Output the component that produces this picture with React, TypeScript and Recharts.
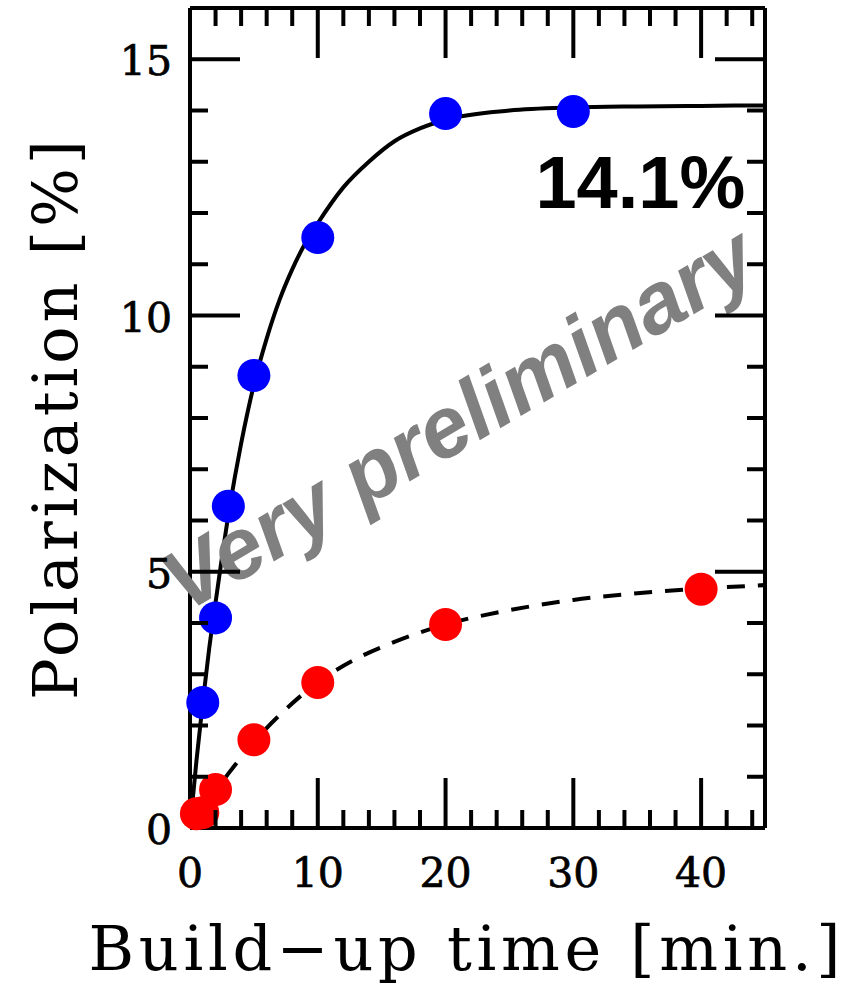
import React from "react";
import {
  ComposedChart,
  Line,
  Scatter,
  XAxis,
  YAxis,
  ReferenceDot,
  Label,
} from "recharts";

// measured points
const blueTimes = [1, 2, 3, 5, 10, 20, 30];
const bluePol = [2.45, 4.1, 6.28, 8.83, 11.52, 13.94, 13.98];

const redTimes = [0.5, 1, 2, 5, 10, 20, 40];
const redPol = [0.28, 0.3, 0.75, 1.72, 2.84, 3.97, 4.66];

// fit curves
const solidTimes = [0, 0.5, 1, 1.5, 2, 3, 4, 5, 6, 7, 8, 9, 10, 12, 14, 16, 18, 20, 25, 30, 35, 40, 45];
const solidPol = [0, 1.3, 2.45, 3.5, 4.4, 6.1, 7.5, 8.65, 9.55, 10.3, 10.9, 11.4, 11.8, 12.5, 13.0, 13.4, 13.65, 13.82, 14.0, 14.06, 14.08, 14.09, 14.1];

const dashedTimes = [0, 1, 2, 3, 4, 5, 7, 10, 13, 16, 20, 25, 30, 35, 40, 45];
const dashedPol = [0, 0.37, 0.72, 1.06, 1.38, 1.68, 2.2, 2.84, 3.3, 3.63, 3.97, 4.25, 4.45, 4.58, 4.67, 4.74];

const xTicks = Array.from({ length: 23 }, (_, i) => i * 2);
const yTicks = Array.from({ length: 16 }, (_, i) => i);

const toPoints = (xs: number[], ys: number[]) => xs.map((x, i) => ({ x, y: ys[i] }));

const bluePts = toPoints(blueTimes, bluePol);
const redPts = toPoints(redTimes, redPol);
const solidPts = toPoints(solidTimes, solidPol);
const dashedPts = toPoints(dashedTimes, dashedPol);

const SERIF = "'DejaVu Serif', serif";
const SANS = "'Liberation Sans', Arial, sans-serif";
const LW = 4;

const XTick = (props: any) => {
  const { x, y, payload, top } = props;
  const v = payload.value;
  const major = v % 10 === 0;
  const len = major ? 50 : 18;
  return (
    <g>
      {v !== 0 && (
        <line x1={x} x2={x} y1={y} y2={top ? y + len : y - len} stroke="#000" strokeWidth={LW} />
      )}
      {!top && major && (
        <text x={x} y={y + 59} textAnchor="middle" fontFamily={SERIF} fontSize={41}
          fill="#000" stroke="#000" strokeWidth={0.7}>
          {v}
        </text>
      )}
    </g>
  );
};

const YTick = (props: any) => {
  const { x, y, payload, right } = props;
  const v = payload.value;
  const major = v % 5 === 0;
  const len = major ? 50 : 18;
  return (
    <g>
      {v !== 0 && (
        <line x1={x} x2={right ? x - len : x + len} y1={y} y2={y} stroke="#000" strokeWidth={LW} />
      )}
      {!right && major && (
        <text x={x - 18} y={y + 16} textAnchor="end" fontFamily={SERIF} fontSize={41}
          fill="#000" stroke="#000" strokeWidth={0.7}>
          {v}
        </text>
      )}
    </g>
  );
};

const dot = (color: string) => (props: any) =>
  <circle cx={props.cx} cy={props.cy} r={16.5} fill={color} />;

const axisLine = { stroke: "#000", strokeWidth: LW };

export default function App() {
  return (
    <div style={{ position: "absolute", left: 0, top: 0, background: "#fff" }}>
      <ComposedChart width={855} height={984} margin={{ top: 7, right: 89, bottom: 0, left: 0 }}>
        <XAxis
          xAxisId="b"
          type="number"
          dataKey="x"
          domain={[0, 45]}
          ticks={xTicks}
          interval={0}
          height={156}
          tickSize={0}
          tickMargin={0}
          tickLine={false}
          axisLine={axisLine}
          tick={<XTick />}
        >
          <Label
            content={(p: any) => {
              const vb = p.viewBox;
              return (
                <text
                  x={vb.x + vb.width / 2 - 13}
                  y={vb.y + 142}
                  textAnchor="middle"
                  fontFamily={SERIF}
                  fontSize={62}
                  textLength={752}
                  lengthAdjust="spacing"
                  fill="#000"
                >
                  Build−up time [min.]
                </text>
              );
            }}
          />
        </XAxis>
        <XAxis
          xAxisId="t"
          orientation="top"
          type="number"
          dataKey="x"
          domain={[0, 45]}
          ticks={xTicks}
          interval={0}
          height={1}
          tickSize={0}
          tickMargin={0}
          tickLine={false}
          axisLine={axisLine}
          tick={<XTick top />}
        />
        <YAxis
          yAxisId="l"
          type="number"
          dataKey="y"
          domain={[0, 16]}
          ticks={yTicks}
          interval={0}
          width={190}
          tickSize={0}
          tickMargin={0}
          tickLine={false}
          axisLine={axisLine}
          tick={<YTick />}
        >
          <Label
            content={(p: any) => {
              const vb = p.viewBox;
              const cx = vb.x + 77;
              const cy = 420;
              return (
                <text
                  x={cx}
                  y={cy}
                  transform={`rotate(-90, ${cx}, ${cy})`}
                  textAnchor="middle"
                  fontFamily={SERIF}
                  fontSize={62}
                  textLength={560}
                  lengthAdjust="spacing"
                  fill="#000"
                >
                  Polarization [%]
                </text>
              );
            }}
          />
        </YAxis>
        <YAxis
          yAxisId="r"
          orientation="right"
          type="number"
          dataKey="y"
          domain={[0, 16]}
          ticks={yTicks}
          interval={0}
          width={1}
          tickSize={0}
          tickMargin={0}
          tickLine={false}
          axisLine={axisLine}
          tick={<YTick right />}
        />
        <ReferenceDot
          xAxisId="b"
          yAxisId="l"
          x={21}
          y={8}
          r={0}
          fill="none"
          stroke="none"
          label={(p: any) => {
            const vb = p.viewBox;
            const cx = vb.x + (vb.width || 0) / 2;
            const cy = vb.y + (vb.height || 0) / 2;
            return (
              <text
                x={cx}
                y={cy}
                transform={`rotate(-30.5, ${cx}, ${cy})`}
                textAnchor="middle"
                dominantBaseline="central"
                fontFamily={SANS}
                fontWeight="bold"
                fontStyle="italic"
                fontSize={86}
                fill="#808080"
              >
                Very preliminary
              </text>
            );
          }}
        />
        <ReferenceDot
          xAxisId="b"
          yAxisId="l"
          x={43.3}
          y={12.1}
          r={0}
          fill="none"
          stroke="none"
          label={(p: any) => {
            const vb = p.viewBox;
            return (
              <text
                x={vb.x + 2}
                y={vb.y}
                textAnchor="end"
                fontFamily={SANS}
                fontWeight="bold"
                fontSize={74}
                fill="#000"
              >
                14.1%
              </text>
            );
          }}
        />
        {/* invisible copy so the mirrored top/right axes get a domain and ticks */}
        <Line
          xAxisId="t"
          yAxisId="r"
          data={solidPts}
          dataKey="y"
          stroke="none"
          dot={false}
          activeDot={false}
          legendType="none"
          isAnimationActive={false}
        />
        <Scatter xAxisId="b" yAxisId="l" data={bluePts} dataKey="y" shape={dot("#0000ff")} isAnimationActive={false} />
        <Scatter xAxisId="b" yAxisId="l" data={redPts} dataKey="y" shape={dot("#ff0000")} isAnimationActive={false} />
        <Line
          xAxisId="b"
          yAxisId="l"
          data={solidPts}
          dataKey="y"
          type="monotone"
          stroke="#000"
          strokeWidth={LW}
          dot={false}
          activeDot={false}
          isAnimationActive={false}
        />
        <Line
          xAxisId="b"
          yAxisId="l"
          data={dashedPts}
          dataKey="y"
          type="monotone"
          stroke="#000"
          strokeWidth={LW}
          strokeDasharray="18 13"
          dot={false}
          activeDot={false}
          isAnimationActive={false}
        />
      </ComposedChart>
    </div>
  );
}
